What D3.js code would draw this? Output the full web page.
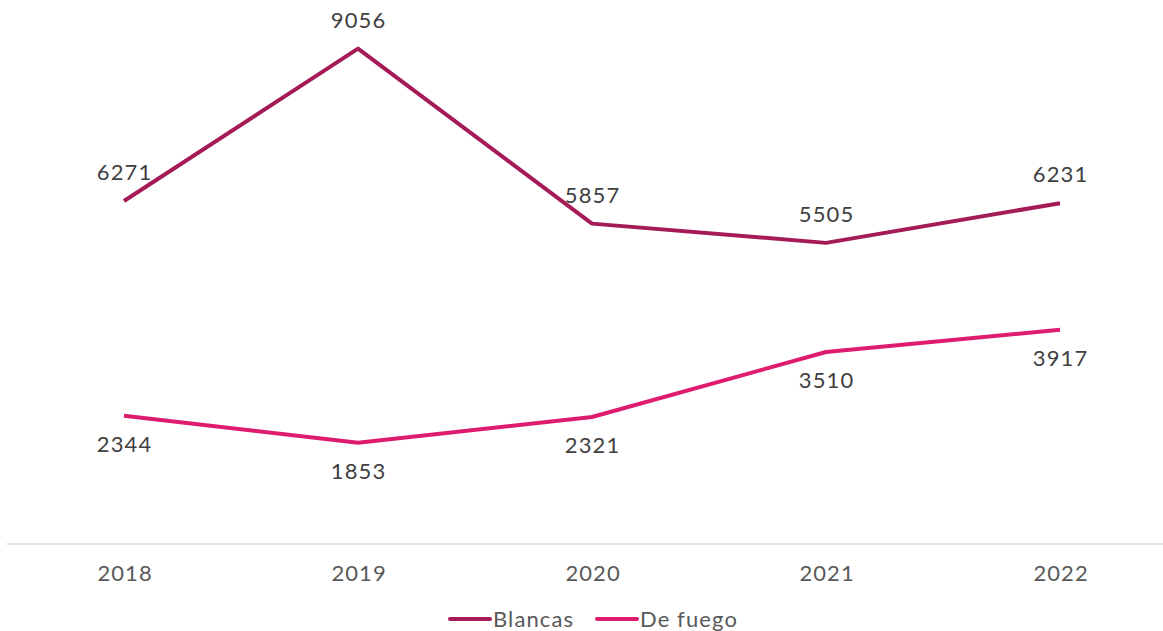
<!DOCTYPE html>
<html><head><meta charset="utf-8">
<script src="https://cdn.jsdelivr.net/npm/d3@7"></script>
<style>body{margin:0;background:#fff}svg{display:block}</style>
</head><body><svg id="c" width="1163" height="631"></svg>
<script>
const years = ["2018","2019","2020","2021","2022"];
const blancas = [6271, 9056, 5857, 5505, 6231];
const deFuego = [2344, 1853, 2321, 3510, 3917];
const seriesNames = ["Blancas", "De fuego"];
const colors = ["#A51B57", "#DE1B6F"];

const svg = d3.select("#c");
const font = "Lato, 'Noto Sans', sans-serif";
const fs = 22;
const ls = "1.1px";
const x = d3.scalePoint().domain(years).range([124, 1060]);
const y = d3.scaleLinear().domain([0, 10000]).range([544, -3]);

svg.append("line").attr("x1", 7).attr("x2", 1163).attr("y1", y(0)).attr("y2", y(0))
  .attr("stroke", "#d9d9d9").attr("stroke-width", 1.3);

const xAxis = d3.axisBottom(x).tickSize(0).tickPadding(21);
const gx = svg.append("g").attr("transform", `translate(0,${y(0)})`).call(xAxis);
gx.select(".domain").remove();
gx.selectAll("text").attr("font-family", font).attr("font-size", fs).attr("fill", "#595959")
  .attr("letter-spacing", ls).attr("dx", "0.6px");

const line = d3.line().x((d, i) => x(years[i])).y(d => y(d));
[blancas, deFuego].forEach((s, k) => {
  svg.append("path").datum(s).attr("d", line).attr("fill", "none")
    .attr("stroke", colors[k]).attr("stroke-width", 4).attr("stroke-linejoin", "round");
  svg.selectAll(null).data(s).enter().append("text")
    .attr("x", (d, i) => x(years[i]) + 0.6).attr("y", d => y(d) + (k === 0 ? -21 : 36))
    .attr("text-anchor", "middle").attr("font-family", font).attr("font-size", fs)
    .attr("letter-spacing", ls).attr("fill", "#404040").text(d => d);
});

const leg = [{x: 450}, {x: 597}];
leg.forEach((l, k) => {
  svg.append("line").attr("x1", l.x).attr("x2", l.x + 40).attr("y1", 619).attr("y2", 619)
    .attr("stroke", colors[k]).attr("stroke-width", 4).attr("stroke-linecap", "round");
  svg.append("text").attr("x", l.x + 43).attr("y", 627).attr("font-family", font)
    .attr("font-size", fs).attr("letter-spacing", ls).attr("fill", "#595959").text(seriesNames[k]);
});
</script></body></html>
